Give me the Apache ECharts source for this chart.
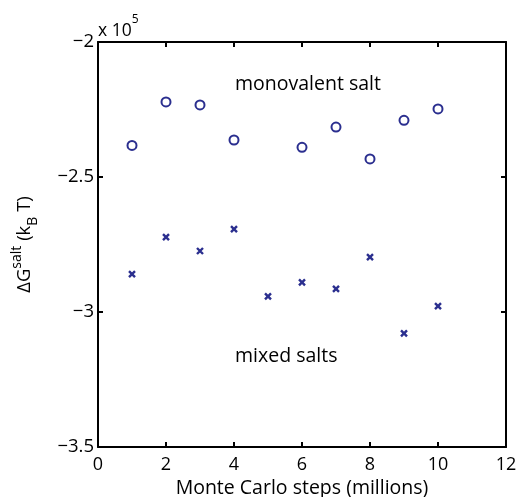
<!DOCTYPE html>
<html>
<head>
<meta charset="utf-8">
<script src="https://cdn.jsdelivr.net/npm/echarts@6/dist/echarts.min.js"></script>
<style>
  html, body { margin: 0; padding: 0; background: #fff; }
  #chart { width: 519px; height: 497px; }
</style>
</head>
<body>
<div id="chart"></div>
<script>
// data
var monoSteps = [1, 2, 3, 4, 6, 7, 8, 9, 10]
var monoValues = [-238300, -222200, -223300, -236300, -239000, -231500, -243300, -229000, -224800]
var mixedSteps = [1, 2, 3, 4, 5, 6, 7, 8, 9, 10]
var mixedValues = [-286000, -272300, -277400, -269300, -294200, -289000, -291400, -279700, -307900, -297800]
var xTicks = [0, 2, 4, 6, 8, 10, 12]
var yTicks = [-350000, -300000, -250000, -200000]

var FONT = 'Open Sans'
var BLUE = '#2b2f8f'

function pairs(xs, ys) {
  return xs.map(function (x, i) { return [x, ys[i]] })
}

var myChart = echarts.init(document.getElementById('chart'))

var axisCommon = {
  axisLine: { show: true, onZero: false, lineStyle: { color: '#000', width: 2 } },
  axisTick: { show: true, inside: true, length: 5, lineStyle: { color: '#000', width: 2 } },
  splitLine: { show: false }
}

myChart.setOption({
  animation: false,
  backgroundColor: '#fff',
  grid: { left: 98, right: 13, top: 42, bottom: 50, containLabel: false, outerBoundsMode: 'none' },
  xAxis: [{
    type: 'value',
    min: xTicks[0], max: xTicks[xTicks.length - 1], interval: 2,
    position: 'bottom',
    name: 'Monte Carlo steps (millions)',
    nameLocation: 'middle',
    nameGap: 29,
    nameTextStyle: { fontFamily: FONT, fontSize: 19.5, color: '#000' },
    axisLabel: { fontFamily: FONT, fontSize: 18, color: '#000', margin: 9 },
    ...axisCommon
  }, {
    type: 'value',
    min: xTicks[0], max: xTicks[xTicks.length - 1], interval: 2,
    position: 'top',
    axisLabel: { show: false },
    ...axisCommon
  }],
  yAxis: [{
    type: 'value',
    min: yTicks[0], max: yTicks[yTicks.length - 1], interval: 50000,
    position: 'left',
    name: '{a|ΔG}{sup|salt}{a| (k}{sub|B}{a| T)}',
    nameLocation: 'middle',
    nameGap: 58,
    nameTextStyle: {
      rich: {
        a: { fontFamily: FONT, fontSize: 18.5, color: '#000', lineHeight: 30, verticalAlign: 'middle' },
        sup: { fontFamily: FONT, fontSize: 14, color: '#000', lineHeight: 14, verticalAlign: 'top' },
        sub: { fontFamily: FONT, fontSize: 14, color: '#000', lineHeight: 14, verticalAlign: 'bottom' }
      }
    },
    axisLabel: {
      fontFamily: FONT, fontSize: 18.5, color: '#000', margin: 4,
      formatter: function (v) {
        return (v < 0 ? '\u2212' : '') + Math.abs(v / 1e5)
      }
    },
    ...axisCommon
  }, {
    type: 'value',
    min: yTicks[0], max: yTicks[yTicks.length - 1], interval: 50000,
    position: 'right',
    axisLabel: { show: false },
    ...axisCommon
  }],
  graphic: [{
    type: 'text', left: 98, top: 14,
    style: {
      text: '{a|x 10}{sup|5}',
      rich: {
        a: { fontFamily: FONT, fontSize: 17.5, fill: '#000', lineHeight: 26, verticalAlign: 'bottom' },
        sup: { fontFamily: FONT, fontSize: 12, fill: '#000', lineHeight: 12, verticalAlign: 'top' }
      }
    }
  }, {
    type: 'text', left: 235, top: 74,
    style: { text: 'monovalent salt', fontFamily: FONT, fontSize: 19.5, fill: '#000' }
  }, {
    type: 'text', left: 235, top: 346,
    style: { text: 'mixed salts', fontFamily: FONT, fontSize: 19.5, fill: '#000' }
  }],
  series: [{
    name: 'monovalent salt',
    type: 'scatter',
    symbol: 'emptyCircle',
    symbolSize: 9,
    itemStyle: { color: BLUE, borderColor: BLUE, borderWidth: 2.4, opacity: 1 },
    data: pairs(monoSteps, monoValues)
  }, {
    name: 'mixed salts',
    type: 'scatter',
    symbol: 'path://M0,0L10,10M10,0L0,10',
    symbolSize: 6,
    itemStyle: { color: 'none', borderColor: BLUE, borderWidth: 2.4, opacity: 1 },
    data: pairs(mixedSteps, mixedValues)
  }]
})
</script>
</body>
</html>
